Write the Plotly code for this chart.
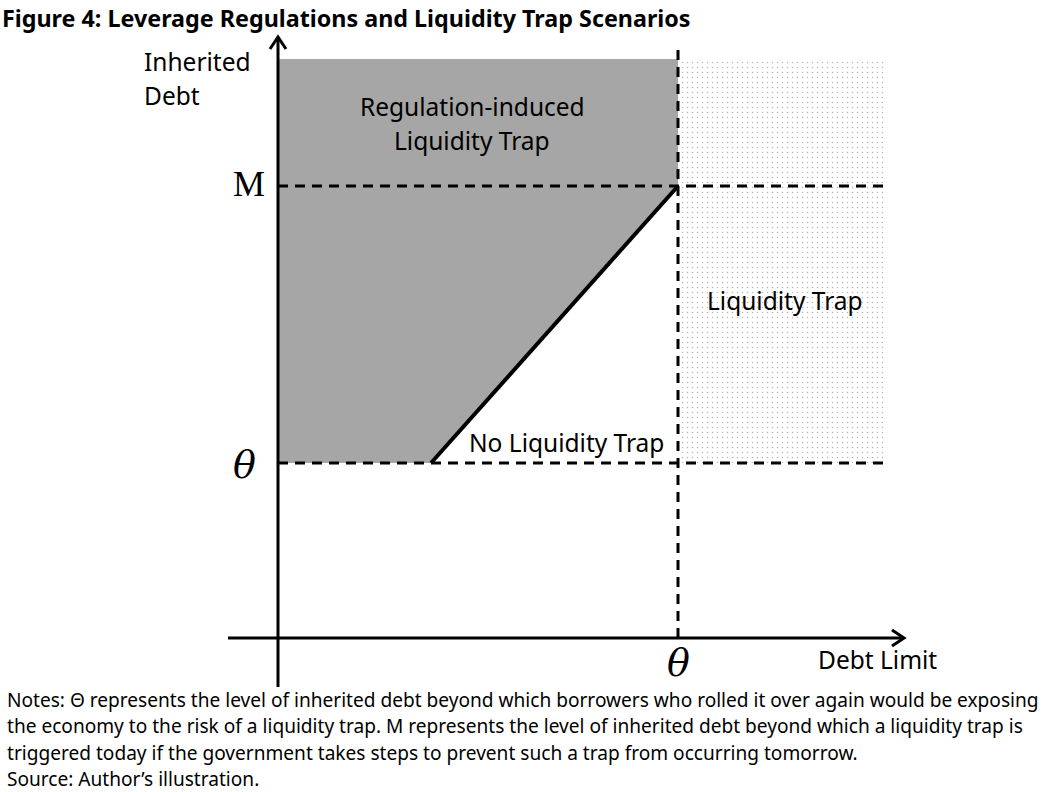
import plotly.graph_objects as go

# schematic values (100 px per unit, origin at the axes crossing)
theta_x = 4.0          # debt limit theta on the horizontal axis
theta_y = 1.75         # inherited debt theta
M = 4.52               # inherited debt M
y_top = 5.79           # top of the shaded areas
x_right = 6.09         # right edge of the dotted area
line_start = 1.53      # where the frontier leaves the theta line

x_axis = [-0.5, 6.26]
y_axis = [-0.49, 6.01]

# regulation-induced trap region
reg_x = [0, line_start, theta_x, theta_x, 0, 0]
reg_y = [theta_y, theta_y, M, y_top, y_top, theta_y]

# liquidity trap region (dotted)
trap_x = [theta_x, x_right, x_right, theta_x, theta_x]
trap_y = [theta_y, theta_y, y_top, y_top, theta_y]

notes = [
    "Notes: \u0398 represents the level of inherited debt beyond which borrowers who rolled it over again would be exposing",
    "the economy to the risk of a liquidity trap. M represents the level of inherited debt beyond which a liquidity trap is",
    "triggered today if the government takes steps to prevent such a trap from occurring tomorrow.",
    "Source: Author\u2019s illustration.",
]

W, H = 1044, 792
x0_px, y0_px = 278, 638
xr = [-x0_px / 100, (W - x0_px) / 100]
yr = [-(H - y0_px) / 100, y0_px / 100]

fig = go.Figure()

fig.add_trace(go.Scatter(x=trap_x, y=trap_y, mode="lines", line=dict(width=0),
                         fill="toself", fillcolor="rgba(255,255,255,0)",
                         fillpattern=dict(shape=".", size=5, solidity=0.07,
                                          fgcolor="#6a6a6a", bgcolor="white")))
fig.add_trace(go.Scatter(x=reg_x, y=reg_y, mode="lines", line=dict(width=0),
                         fill="toself", fillcolor="#a6a6a6"))

dash = dict(color="black", width=3, dash="10px,7px")
fig.add_trace(go.Scatter(x=[0, x_right], y=[M, M], mode="lines", line=dash))
fig.add_trace(go.Scatter(x=[0, x_right], y=[theta_y, theta_y], mode="lines", line=dash))
fig.add_trace(go.Scatter(x=[theta_x, theta_x], y=[0, 5.95], mode="lines", line=dash))

# frontier
fig.add_trace(go.Scatter(x=[line_start, theta_x], y=[theta_y, M], mode="lines",
                         line=dict(color="black", width=4)))

# axes with open arrowheads
ax_line = dict(color="black", width=3)
fig.add_trace(go.Scatter(x=[0, 0], y=y_axis, mode="lines", line=ax_line))
fig.add_trace(go.Scatter(x=x_axis, y=[0, 0], mode="lines", line=ax_line))
fig.add_trace(go.Scatter(x=[-0.08, 0, 0.08], y=[y_axis[1] - 0.12, y_axis[1], y_axis[1] - 0.12],
                         mode="lines", line=ax_line))
fig.add_trace(go.Scatter(x=[x_axis[1] - 0.12, x_axis[1], x_axis[1] - 0.12], y=[0.08, 0, -0.08],
                         mode="lines", line=ax_line))

sans = "Noto Sans"
serif = "DejaVu Serif"
lab = dict(family=sans, size=24.5, color="black")


def txt(x, y, s, font=lab, xanchor="center"):
    fig.add_annotation(x=x, y=y, xref="x", yref="y", text=s, showarrow=False,
                       font=font, xanchor=xanchor, yanchor="middle")


txt(1.94, 5.32, "Regulation-induced")
txt(1.94, 4.98, "Liquidity Trap")
txt(5.07, 3.38, "Liquidity Trap")
txt(2.88, 1.96, "No Liquidity Trap")
txt(-1.36, 5.77, "Inherited", xanchor="left")
txt(-1.36, 5.43, "Debt", xanchor="left")
txt(5.99, -0.21, "Debt Limit")
txt(-0.29, 4.54, "M", font=dict(family="Liberation Serif", size=36, color="black"))
txt(-0.34, 1.73, "<i>\u03b8</i>", font=dict(family=serif, size=38, color="black"))
txt(4.0, -0.25, "<i>\u03b8</i>", font=dict(family=serif, size=38, color="black"))

fig.add_annotation(x=0, y=1 - 18 / H, xref="paper", yref="paper", xanchor="left",
                   yanchor="middle", showarrow=False,
                   text="<b>Figure 4: Leverage Regulations and Liquidity Trap Scenarios</b>",
                   font=dict(family=sans, size=23.3, color="black"))
for i, line in enumerate(notes):
    fig.add_annotation(x=5 / W, y=1 - (700 + 26.3 * i) / H, xref="paper", yref="paper",
                       xanchor="left", yanchor="middle", showarrow=False, text=line,
                       font=dict(family=sans, size=19.1, color="black"))

fig.update_layout(width=W, height=H, margin=dict(l=0, r=0, t=0, b=0),
                  paper_bgcolor="white", plot_bgcolor="white", showlegend=False,
                  xaxis=dict(range=xr, visible=False, fixedrange=True),
                  yaxis=dict(range=yr, visible=False, fixedrange=True))

fig.write_html("out.html", config={"displayModeBar": False},
               post_script="document.body.style.margin='0';")
